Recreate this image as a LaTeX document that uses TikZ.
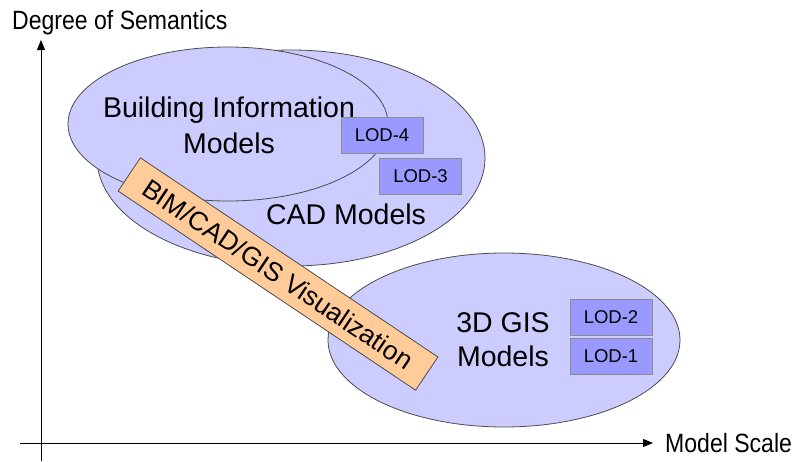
\documentclass[tikz,border=0pt]{standalone}
\usepackage{fontspec}
\setmainfont{Liberation Sans}
\usetikzlibrary{shapes.geometric,arrows.meta}
\definecolor{ellfill}{HTML}{CCCCFF}
\definecolor{lodfill}{HTML}{9999FF}
\definecolor{banfill}{HTML}{FFCC99}
\begin{document}
\begin{tikzpicture}[x=1pt,y=-1pt,
  ell/.style={ellipse,draw=black!70,fill=ellfill,line width=0.8pt,inner sep=0pt},
  lod/.style={draw=black!45,fill=lodfill,line width=0.8pt,minimum width=82pt,minimum height=36pt,inner sep=0pt,font=\fontsize{18.5}{20}\selectfont},
  big/.style={font=\fontsize{28.5}{36}\selectfont,align=center},
  axlabel/.style={font=\fontsize{24}{28}\selectfont,inner sep=0pt},
  axisline/.style={line width=0.8pt,-{Triangle[length=10pt,width=8pt]}},
  banner/.style={draw=black!70,fill=banfill,line width=0.8pt,inner sep=0pt,font=\fontsize{26.5}{30}\selectfont}]
\useasboundingbox (0,0) rectangle (801,461);
% axes
\coordinate (ybot) at (41,461);
\coordinate (ytop) at (41,40);
\coordinate (xleft) at (20,443);
\coordinate (xright) at (653,443);
\draw[axisline] (ybot) -- (ytop);
\draw[axisline] (xleft) -- (xright);
\node[axlabel,anchor=west] (ylab) at (12,23) {\scalebox{0.96}[1.1]{Degree of Semantics}};
\node[axlabel,anchor=west] (xlab) at (665,443) {\scalebox{0.96}[1.1]{Model Scale}};
% ellipses
\node[ell,minimum width=388pt,minimum height=216pt] (cad) at (291,158) {};
\node[big] (cadtxt) at (346,214) {CAD Models};
\node[ell,minimum width=320pt,minimum height=154pt] (bim) at (228,124) {};
\node[big] (bimtxt) at (229,125) {Building Information\\Models};
\node[ell,minimum width=352pt,minimum height=174pt] (gis) at (504,340) {};
\node[big,font=\fontsize{28.5}{34}\selectfont] (gistxt) at (503,340) {3D GIS\\Models};
% LOD boxes
\node[lod] (lod4) at (382,135) {LOD-4};
\node[lod] (lod3) at (420.5,176) {LOD-3};
\node[lod] (lod2) at (611,317) {LOD-2};
\node[lod] (lod1) at (611,356) {LOD-1};
% banner
\node[banner,rotate=-33.8,minimum width=358pt,minimum height=40pt] (vis) at (278,274) {BIM/CAD/GIS Visualization};
\end{tikzpicture}
\end{document}
